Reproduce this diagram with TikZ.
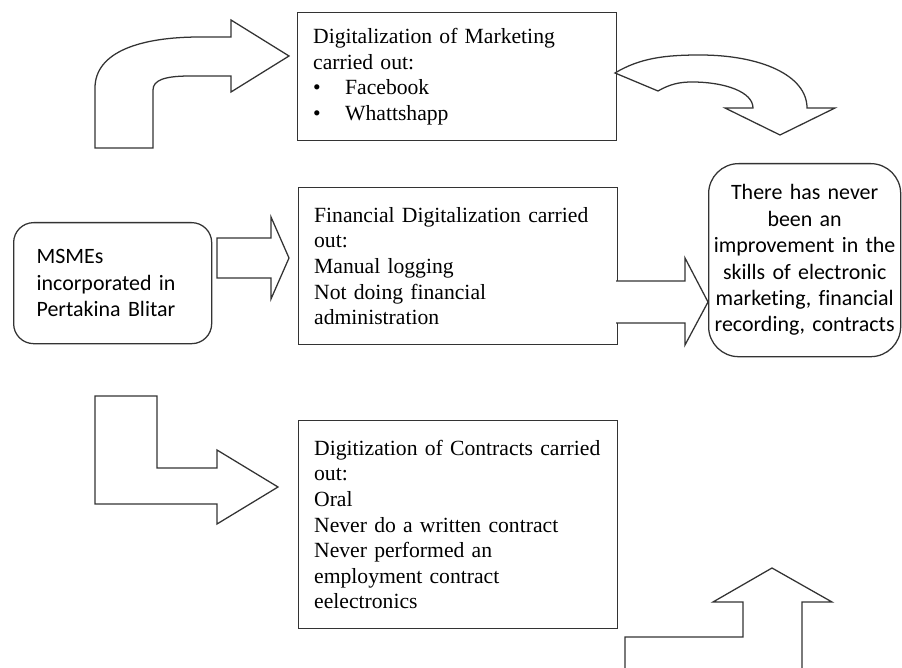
\documentclass[tikz,border=0pt]{standalone}
\usepackage{fontspec}
\setmainfont{Liberation Serif}
\newfontfamily\calibri[Ligatures=CommonOff]{Carlito}
\usetikzlibrary{positioning}

\tikzset{
  txtbox/.style={draw=black!80, line width=0.9pt, anchor=north west, align=left,
    inner xsep=0.3875cm, text width=7.2cm, minimum width=7.975cm,
    font=\fontsize{15.4pt}{18.2pt}\selectfont},
  roundbox/.style={draw=black!80, line width=0.9pt, anchor=north west,
    rounded corners=#1, font=\calibri\fontsize{15.6pt}{18.8pt}\selectfont},
  blk/.style={draw=black!80, line width=0.9pt, fill=white, line join=miter}
}
\newcommand{\bul}{\makebox[0.8cm][l]{\textbullet}}

\begin{document}
\begin{tikzpicture}[x=0.025cm,y=-0.025cm]
  \useasboundingbox (0,0) rectangle (902,668);
  % boxes
  \node[txtbox, minimum height=3.2cm] (mkt) at (297,12)
    {Digitalization of Marketing\\ carried out:\\ \bul Facebook\\ \bul Whattshapp};
  \node[txtbox, minimum height=3.925cm] (fin) at (298,187)
    {Financial Digitalization carried\\ out:\\ Manual logging\\ Not doing financial\\ administration};
  \node[txtbox, minimum height=5.2cm] (con) at (298,420)
    {Digitization of Contracts carried\\ out:\\ Oral\\ Never do a written contract\\ Never performed an\\ employment contract\\ eelectronics};
  \node[roundbox=0.5cm, align=left, inner xsep=0.575cm, text width=3.8cm,
    minimum width=4.95cm, minimum height=3.025cm] (msme) at (13,222)
    {MSMEs\\ incorporated in\\ Pertakina Blitar};
  \node[roundbox=0.75cm, align=center, inner xsep=0.1cm, text width=4.6cm,
    minimum width=4.8cm, minimum height=4.825cm] (res) at (708,163)
    {There has never\\ been an\\ improvement in the\\ skills of electronic\\ marketing, financial\\ recording, contracts};
  % block arrows
  \clip (0,0) rectangle (902,668);
  % up and over to marketing
  \draw[blk] (95,148) -- (95,88) .. controls (95,52) and (140,37) .. (200,37) -- (231,37)
    -- (231,20) -- (289,56) -- (231,92) -- (231,76) -- (190,76)
    .. controls (165,76) and (153,80) .. (153,90) -- (153,148) -- cycle;
  % msme to financial
  \draw[blk] (217,238) -- (271,238) -- (271,217) -- (289,258) -- (271,299) -- (271,278) -- (217,278) -- cycle;
  % financial to result
  \draw[blk] (616,281) -- (685,281) -- (685,258) -- (708,302) -- (685,345) -- (685,323) -- (616,323);
  % down and right to contracts
  \draw[blk] (95,396) -- (157,396) -- (157,468) -- (217,468) -- (217,450) -- (278,487)
    -- (217,524) -- (217,504) -- (95,504) -- cycle;
  % marketing over and down to result
  \draw[blk] (615,73) .. controls (640,58) and (665,55) .. (700,55)
    .. controls (760,55) and (807,75) .. (807,108) -- (835,108) -- (780,135)
    -- (725,108) -- (753,108) .. controls (753,92) and (725,82) .. (692,82)
    .. controls (680,82) and (670,84) .. (658,91) -- cycle;
  % up from bottom
  \draw[blk] (625,680) -- (625,637) -- (743,637) -- (743,602) -- (713,602) -- (772,568)
    -- (832,602) -- (802,602) -- (802,680);
\end{tikzpicture}
\end{document}
